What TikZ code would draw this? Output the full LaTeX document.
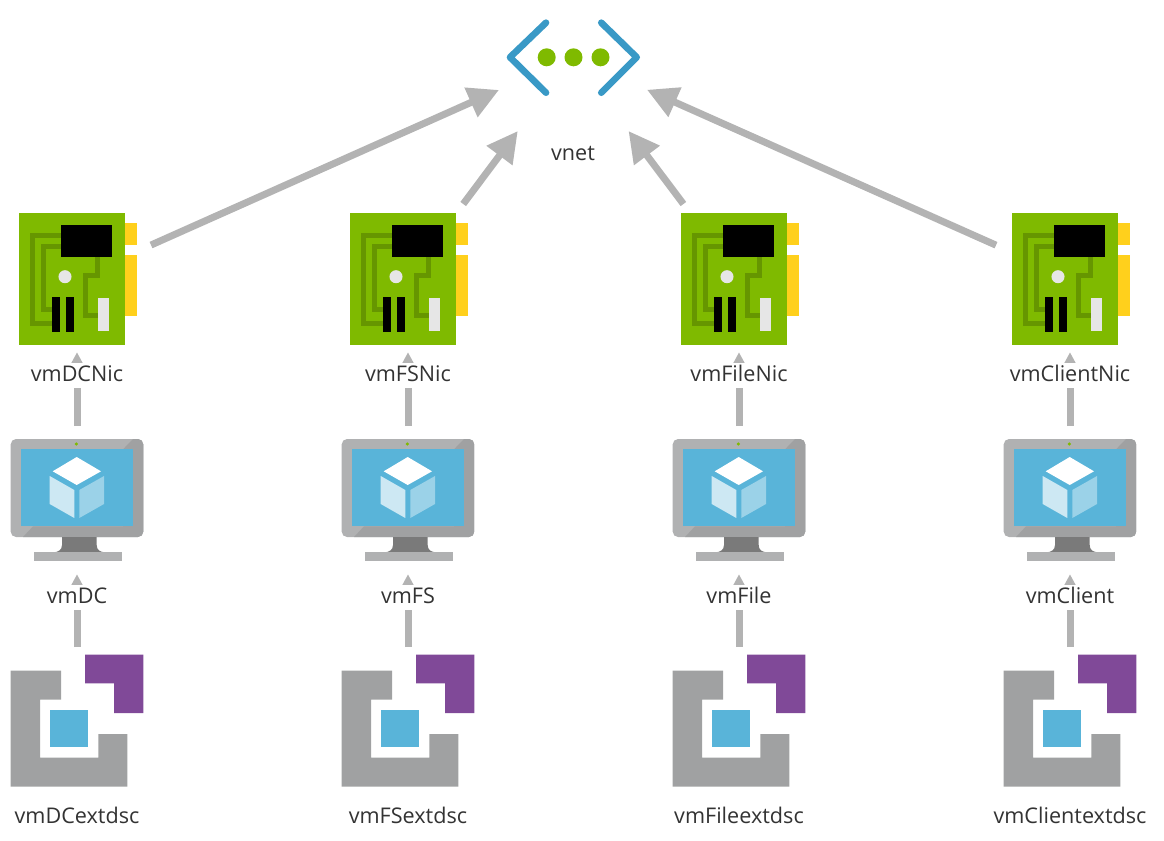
\documentclass[tikz,border=0pt]{standalone}
\usepackage{fontspec}
\setmainfont{Open Sans}
\usetikzlibrary{arrows.meta}
\definecolor{arrowgrey}{HTML}{B3B3B3}
\definecolor{nicgreen}{HTML}{7FBA00}
\definecolor{tracegreen}{HTML}{669600}
\definecolor{nicyellow}{HTML}{FFD01C}
\definecolor{paleGrey}{HTML}{E6E6E6}
\definecolor{azureblue}{HTML}{59B4D9}
\definecolor{vnetblue}{HTML}{3999C6}
\definecolor{bezelgrey}{HTML}{B0B1B2}
\definecolor{bezeldark}{HTML}{A0A1A2}
\definecolor{extgrey}{HTML}{A0A1A2}
\definecolor{standgrey}{HTML}{7A7A7A}
\definecolor{extpurple}{HTML}{804998}
\definecolor{textgrey}{HTML}{333333}
\tikzset{
	anchorbox/.style={minimum size=111pt,inner sep=0pt,outer sep=0pt},
	linkarrow/.style={draw=arrowgrey,line width=5.25pt,-{Triangle[length=23pt,width=23pt]}},
	namelabel/.style={anchor=base,fill=white,inner sep=0.5pt,text height=13pt,text depth=5pt,text=textgrey,font=\fontsize{16.2pt}{18pt}\selectfont},
	trace/.style={draw=tracegreen,line width=3.75pt},
	chevron/.style={draw=vnetblue,line width=5pt,line cap=round,line join=round},
}
\begin{document}
\begin{tikzpicture}[x=0.75pt,y=-0.75pt]
	\useasboundingbox (0,0) rectangle (1164,840);
	
	% Define the anchors of the icons
	\node[anchorbox] (vnet) at (573,57) {};
	\foreach \col/\vmname in {0/DC,331/FS,662/File,993/Client}{
		\node[anchorbox] (nic\vmname) at (77+\col,278) {};
		\node[anchorbox] (vm\vmname) at (77+\col,500) {};
		\node[anchorbox] (ext\vmname) at (77+\col,721) {};
	}
	
	% Draw the connectors
	\foreach \vmname in {DC,FS,File,Client}{
		\draw[linkarrow] (nic\vmname) -- (vnet);
		\draw[linkarrow] (vm\vmname) -- (nic\vmname);
		\draw[linkarrow] (ext\vmname) -- (vm\vmname);
	}
	
	% Draw the virtual network
	\draw[chevron] (546,22.7) -- (510,57.3) -- (546,92.7);
	\draw[chevron] (601.3,22.7) -- (636.7,57.3) -- (601.3,92.7);
	\foreach \dotx in {546.7,573.5,600.5}
		\fill[nicgreen] (\dotx,57.3) circle[radius=6.75pt];
	\node[namelabel] (vnetlabel) at (573,160) {vnet};
	
	\foreach \col/\vmname/\nicname/\extname in {0/vmDC/vmDCNic/vmDCextdsc,331/vmFS/vmFSNic/vmFSextdsc,662/vmFile/vmFileNic/vmFileextdsc,993/vmClient/vmClientNic/vmClientextdsc}{
		\begin{scope}[shift={(\col,0)}]
			% Draw the network card
			\fill[nicyellow] (125,223) rectangle (137,245);
			\fill[nicyellow] (125,255) rectangle (137,315.5);
			\fill[nicgreen] (18.5,212.5) rectangle (125,345);
			\draw[trace] (70,235.5) -- (32.5,235.5) -- (32.5,323.5) -- (60,323.5);
			\draw[trace] (70,246.5) -- (43.5,246.5) -- (43.5,309.5) -- (60,309.5);
			\draw[trace] (97.5,250) -- (97.5,275.5) -- (85,275.5) -- (85,315.5) -- (103,315.5);
			\fill (61,225) rectangle (112,257);
			\fill[paleGrey] (65,276.7) circle[radius=4.9pt];
			\fill (51.7,296.7) rectangle (60.3,332.3);
			\fill (65.7,296.7) rectangle (74.3,332.3);
			\fill[paleGrey] (97.7,298.3) rectangle (109,331);
			\node[namelabel] (lblnic) at (77,381) {\nicname};
			
			% Draw the monitor
			\fill[bezelgrey,rounded corners=4pt] (10.7,439) rectangle (143.3,537);
			\begin{scope}
				\clip[rounded corners=4pt] (10.7,439) rectangle (143.3,537);
				\fill[bezeldark] (123,449.3) -- (133,439) -- (143.3,439) -- (143.3,537) -- (23,537) -- (33,526.3) -- (123,526.3) -- cycle;
			\end{scope}
			\fill[azureblue] (21,449.3) rectangle (133,526.3);
			\fill[standgrey] (62,537) -- (62,545) .. controls (62,550) and (58,552.3) .. (53,552.3) -- (106,552.3) .. controls (100,552.3) and (96.7,550) .. (96.7,545) -- (96.7,537) -- cycle;
			\fill[bezelgrey] (34,552.3) rectangle (122,560.7);
			\fill[nicgreen] (76.3,444) circle[radius=1.3pt];
			\fill[white] (76.7,457) -- (101,471.3) -- (76.7,485) -- (52.7,471.3) -- cycle;
			\fill[white,opacity=0.7] (49.7,476) -- (74.3,490) -- (74.3,518) -- (49.7,504) -- cycle;
			\fill[white,opacity=0.4] (79.3,490) -- (104,476) -- (104,504) -- (79.3,518) -- cycle;
			\node[namelabel] (lblvm) at (77,603) {\vmname};
			
			% Draw the extension
			\fill[extgrey] (10.7,670.7) -- (61,670.7) -- (61,699.7) -- (40,699.7) -- (40,757.7) -- (98.3,757.7) -- (98.3,734) -- (127.3,734) -- (127.3,786.7) -- (10.7,786.7) -- cycle;
			\fill[extpurple] (85,654.7) -- (143.3,654.7) -- (143.3,713) -- (114,713) -- (114,683.3) -- (85,683.3) -- cycle;
			\fill[azureblue] (50,710.3) rectangle (87.7,747.3);
			\node[namelabel] (lblext) at (77,823) {\extname};
		\end{scope}
	}
\end{tikzpicture}
\end{document}
